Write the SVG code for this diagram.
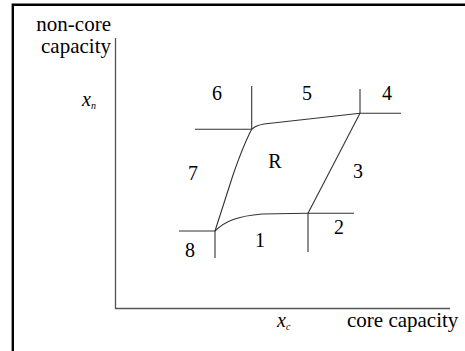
<svg xmlns="http://www.w3.org/2000/svg" width="465" height="351" viewBox="0 0 465 351" font-family="'Liberation Serif', 'DejaVu Serif', serif">
<style>
text{font-family:'Liberation Serif','DejaVu Serif',serif;fill:#000}
.w{font-size:21px}
.d{font-size:20px;text-anchor:middle}
.ln{fill:none;stroke:#333;stroke-width:1.1}
.ax{fill:none;stroke:#555;stroke-width:1.3}
</style>
<rect width="465" height="351" fill="#fff"/>
<path d="M12.8 351 V4.7 H465" fill="none" stroke="#000" stroke-width="2.4"/>
<g id="axes">
<path class="ax" d="M115.5 38 V308.5 H450"/>
</g>
<g id="axis-labels">
<text class="w" x="111" y="31" text-anchor="end">non-core</text>
<text class="w" x="111" y="53" text-anchor="end">capacity</text>
<text class="w" x="347" y="327">core capacity</text>
<text x="82" y="106" font-size="20" font-style="italic">x<tspan font-size="10" dy="3">n</tspan></text>
<text x="277" y="327" font-size="20" font-style="italic">x<tspan font-size="10" dy="3">c</tspan></text>
</g>
<g id="connectors">
<path class="ln" d="M251.7 86 V129.3 M195 129.3 H251.7"/>
<path class="ln" d="M360 89 V113.3 H401"/>
<path class="ln" d="M251.7 129.3 C255 126 258 125 264 124 L360 113.3"/>
<path class="ln" d="M251.7 129.3 C246 140 240 155 233 175 L215 231"/>
<path class="ln" d="M360 113.3 L308 213.3"/>
<path class="ln" d="M179 231 H215 V258"/>
<path class="ln" d="M215 231 C225 221 238 216 262 214 L308 213.3"/>
<path class="ln" d="M308 213.3 H354 M308 213.3 V252"/>
</g>
<g id="labels">
<text class="d" x="217" y="100">6</text>
<text class="d" x="307" y="100">5</text>
<text class="d" x="387" y="100">4</text>
<text class="d" x="275" y="168">R</text>
<text class="d" x="193" y="180">7</text>
<text class="d" x="358" y="178">3</text>
<text class="d" x="339" y="234">2</text>
<text class="d" x="260" y="247">1</text>
<text class="d" x="190" y="257">8</text>
</g>
</svg>
